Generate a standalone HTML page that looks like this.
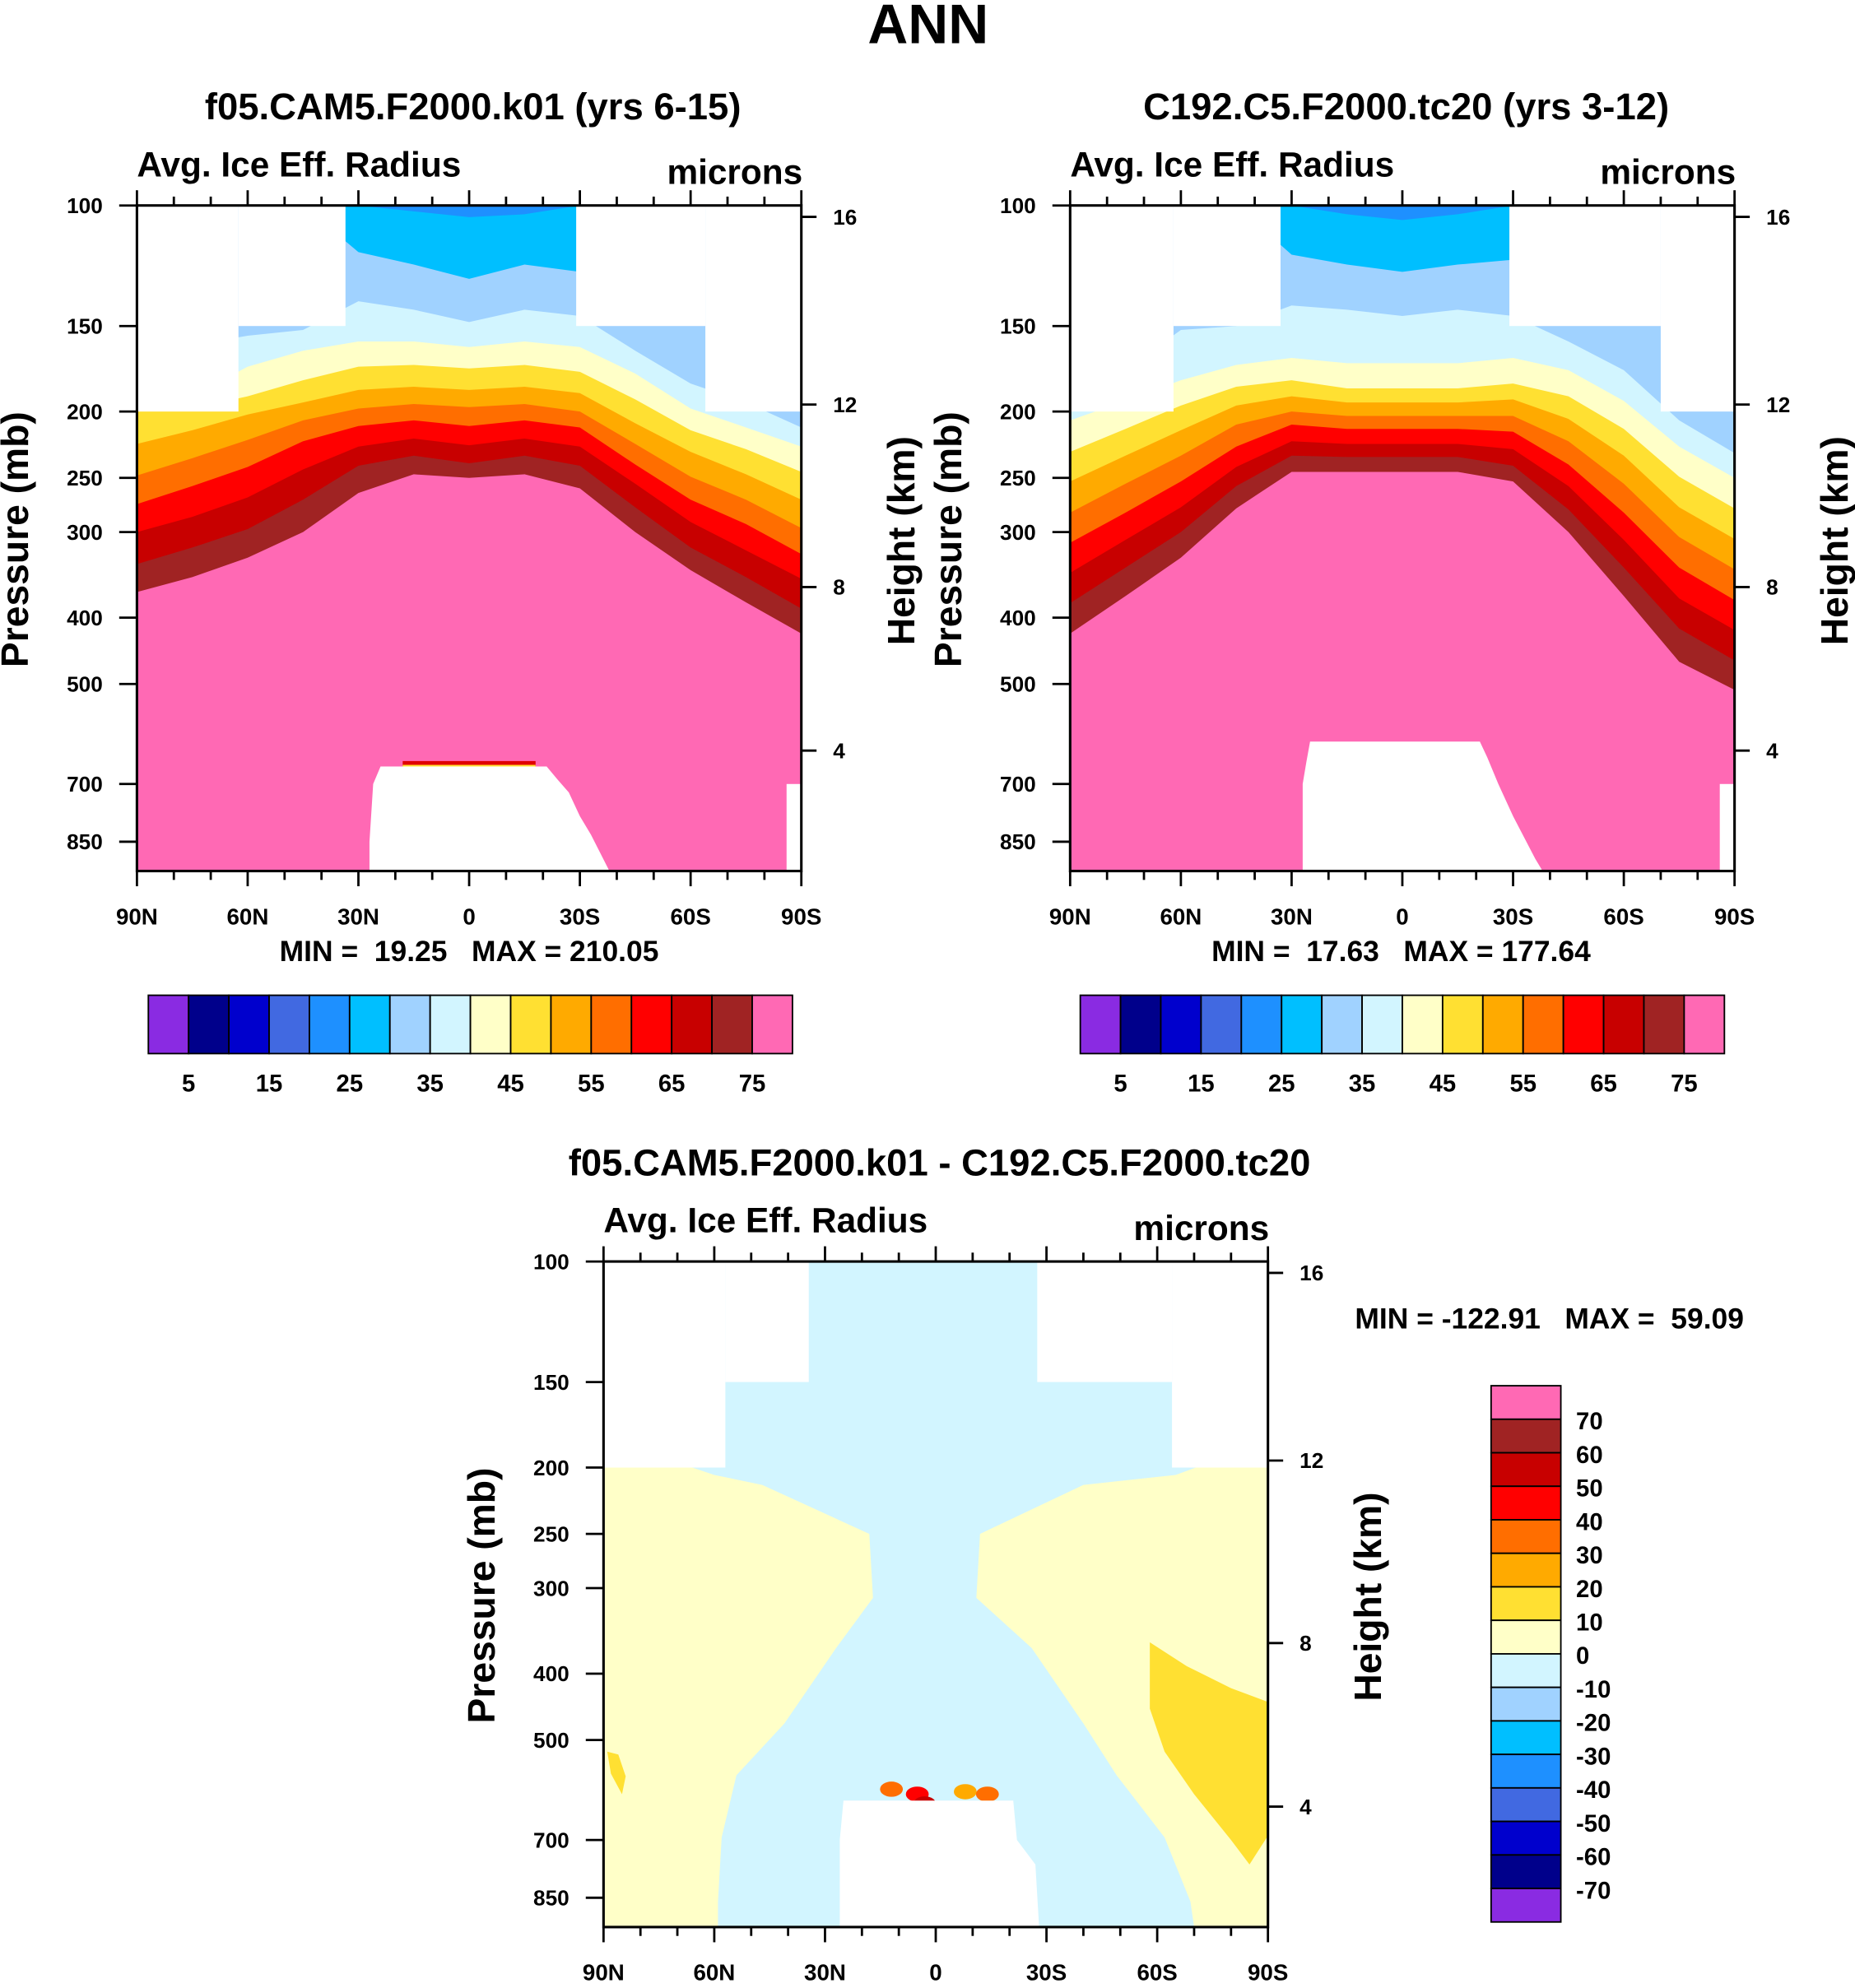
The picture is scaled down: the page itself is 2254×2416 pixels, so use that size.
<!DOCTYPE html>
<html><head><meta charset="utf-8"><style>
html,body{margin:0;padding:0;background:#fff}
svg{display:block;font-family:"Liberation Sans",sans-serif;font-weight:bold}
</style></head><body>
<svg id="fig" width="2254" height="2416" viewBox="0 0 1463 1568" xmlns="http://www.w3.org/2000/svg">
<text x="732" y="34" font-size="44" text-anchor="middle">ANN</text>
</svg>
<script>
const lats=[90,75,60,45,30,15,0,-15,-30,-45,-60,-75,-90];
const colors=["#8a2be2","#00008b","#0000cd","#4169e1","#1e90ff","#00bfff","#a0d2ff","#d2f5ff","#ffffc8","#ffe032","#ffaa00","#ff6e00","#ff0000","#c80000","#a02323","#ff69b4"];
const cbLabels1=["5","15","25","35","45","55","65","75"];
const cbLabels3=["70","60","50","40","30","20","10","0","-10","-20","-30","-40","-50","-60","-70"];
const pTicks=[100,150,200,250,300,400,500,700,850];
const hTicks=[16,12,8,4];
const latTicks=[90,60,30,0,-30,-60,-90];
const latTickLabels=["90N","60N","30N","0","30S","60S","90S"];
const p1b75=[367,349,327,300,263,247,250,247,259,300,341,380,422];
const p1b70=[334,316,297,269,240,232,238,232,240,276,316,349,388];
const p1b65=[300,285,267,243,225,219,224,219,225,255,290,319,351];
const p1b60=[273,257,241,221,210,206,210,206,211,239,269,292,323];
const p1b55=[248,234,220,206,198,195,197,195,200,223,249,269,296];
const p1b50=[223,213,202,194,186,184,186,184,188,208,229,247,269];
const p1b45=[200,198,190,180,172,171,173,171,175,192,213,227,245];
const p1b40=[200,190,172,163,158,158,161,158,161,176,198,211,225];
const p1b35=[167,160,155,152,138,142,148,142,145,163,182,194,211];
const p1b30=[100,100,100,100,117,122,128,122,125,100,100,100,100];
const p1b25=[100,100,100,100,100,102,104,103,100,100,100,100,100];
const p2b75=[422,372,327,277,245,245,245,245,253,300,372,464,510];
const p2b70=[381,338,300,257,232,233,233,233,240,278,338,415,462];
const p2b65=[344,308,276,241,221,223,223,223,227,257,308,375,417];
const p2b60=[311,281,253,225,209,212,212,212,214,239,281,338,377];
const p2b55=[281,255,232,209,200,203,203,203,203,221,255,305,340];
const p2b50=[253,232,213,196,190,194,194,194,192,205,232,276,307];
const p2b45=[229,212,196,184,180,185,185,185,182,190,212,249,277];
const p2b40=[206,193,180,171,167,170,170,170,167,174,193,225,250];
const p2b35=[190,174,152,150,140,142,145,142,145,158,174,206,230];
const p2b30=[100,100,100,100,118,122,125,122,120,100,100,100,100];
const p2b25=[100,100,100,100,100,103,105,103,100,100,100,100,100];
const m1Lat=[90,62.5,33.5,-29,-64,-90], m1P=[200,150,100,150,200];
const m2Lat=[90,62,33,-29,-70,-90], m2P=[200,150,100,150,200];
const m3Lat=[90,57,34.4,-27.5,-64,-90], m3P=[200,150,100,150,200];
const b1Lat=[27,27,26,24,-21,-24,-27,-30,-33,-38], b1P=[950,850,700,660,660,690,720,780,830,950];
const b2Lat=[27,27,26,25,-21,-23,-26,-30,-36,-38], b2P=[950,700,650,607,607,640,700,780,900,950];
const b3Lat=[26,26,25,-21,-22,-27,-28], b3P=[950,700,613,613,700,760,950];
const cyL_p=[195,205,212,250,310,367,473,563,694,861,950], cyL_lat=[72,60,47,18,17,27,41,54,58,59,59];
const cyR_p=[195,205,212,250,310,367,473,563,694,861,950], cyR_lat=[-76,-65,-40,-12,-11,-26,-40,-49,-62,-69,-70];
const ybR_lat=[-58,-68,-80,-90,-90,-85,-80,-70,-62,-58], ybR_p=[360,390,420,440,690,760,700,600,520,450];
const ybL_lat=[89,86,84,85,88], ybL_p=[520,525,565,600,560];
const blobLat=[12,5,-8,-14,3,-1,-11], blobP=[590,600,595,600,620,640,640], blobLevel=[11,12,10,11,13,0,2];

const svg=document.getElementById('fig');const NS="http://www.w3.org/2000/svg";
function el(t,a,parent){const e=document.createElementNS(NS,t);for(const k in a)e.setAttribute(k,a[k]);(parent||svg).appendChild(e);return e;}
function txt(s,a,parent){const e=el('text',a,parent);e.textContent=s;e.setAttribute('xml:space','preserve');e.style.whiteSpace='pre';return e;}

function panel(id,x0,y0){
  const W=524,H=525,K=540;
  const X=lat=>x0+(90-lat)/180*W;
  const Y=p=>Math.min(y0+H,y0+K*Math.log10(p/100));
  const g=el('g',{});
  
  
  el('clipPath',{id:'c'+id},g);
  el('rect',{x:x0,y:y0,width:W,height:H},g.lastChild);
  const d=el('g',{'clip-path':'url(#c'+id+')'},g);
  return {g,d,X,Y,x0,y0,W,H};
}
function axes(P,title,mmText,mmPos){
  const {g,X,Y,x0,y0,W,H}=P;
  el('rect',{x:x0,y:y0,width:W,height:H,fill:'none',stroke:'#000','stroke-width':2},g);
  for(let lat=90;lat>=-90;lat-=10){const major=lat%30===0;const l=major?12:7;
    el('line',{x1:X(lat),x2:X(lat),y1:y0,y2:y0-l,stroke:'#000','stroke-width':1.8},g);
    el('line',{x1:X(lat),x2:X(lat),y1:y0+H,y2:y0+H+l,stroke:'#000','stroke-width':1.8},g);}
  latTicks.forEach((lt,i)=>{const t=txt(latTickLabels[i],{x:X(lt),y:y0+H+42,'font-size':18,'text-anchor':'middle'},g);
    });
  pTicks.forEach(p=>{el('line',{x1:x0,x2:x0-14,y1:Y(p),y2:Y(p),stroke:'#000','stroke-width':1.8},g);
    const t=txt(String(p),{x:x0-27,y:Y(p)+6,'font-size':17,'text-anchor':'end'},g);
    });
  hTicks.forEach(h=>{const yy=y0+({16:9,12:157,8:301,4:430})[h];
    el('line',{x1:x0+W,x2:x0+W+12,y1:yy,y2:yy,stroke:'#000','stroke-width':1.8},g);
    const t=txt(String(h),{x:x0+W+25,y:yy+6,'font-size':17},g);
    });
  let t=txt(title,{x:x0+W/2+3,y:y0-68,'font-size':29.5,'text-anchor':'middle'},g);
  
  t=txt('Avg. Ice Eff. Radius',{x:x0,y:y0-23,'font-size':27.5},g);
  
  t=txt('microns',{x:x0+W+1,y:y0-17,'font-size':27.5,'text-anchor':'end'},g);
  
  t=txt('Pressure (mb)',{x:0,y:0,'font-size':30,'text-anchor':'middle',transform:`translate(${x0-86},${y0+H/2+1}) rotate(-90)`},g);
  
  t=txt('Height (km)',{x:0,y:0,'font-size':30,'text-anchor':'middle',transform:`translate(${x0+W+89},${y0+H/2+2}) rotate(-90)`},g);
  
  t=txt(mmText,{x:mmPos[0],y:mmPos[1],'font-size':23,'text-anchor':'middle'},g);
  
}
function bandsDraw(P,list){
  const {d,X,Y,x0,y0,W,H}=P;
  el('rect',{x:x0,y:y0,width:W,height:H,fill:colors[15]},d);
  list.forEach(([arr,ci])=>{
    let pts=`${X(90)},${y0} ${X(-90)},${y0} `;
    for(let i=lats.length-1;i>=0;i--)pts+=`${X(lats[i])},${Y(arr[i])} `;
    const p=el('polygon',{points:pts,fill:colors[ci]},d);
    
  });
}
function masks(P,mLat,mP,bLat,bP){
  const {d,X,Y,x0,y0,W,H}=P;
  for(let i=0;i<mP.length;i++){if(mP[i]<=100)continue;
    el('rect',{x:X(mLat[i]),y:y0-1,width:X(mLat[i+1])-X(mLat[i]),height:Y(mP[i])-y0+1,fill:'#fff'},d);}
  let pts='';bLat.forEach((l,i)=>{pts+=`${X(l)},${Y(bP[i])} `;});
  pts+=`${X(bLat[bLat.length-1])},${y0+H+2} ${X(bLat[0])},${y0+H+2}`;
  const m=el('polygon',{points:pts,fill:'#fff'},d);
  
}
function hbar(x0,y0,id){
  const g=el('g',{});
  const w=508/16;
  colors.forEach((c,i)=>el('rect',{x:x0+i*w,y:y0,width:w,height:46,fill:c,stroke:'#000','stroke-width':1.2},g));
  cbLabels1.forEach((s,i)=>txt(s,{x:x0+(2*i+1)*w,y:y0+76,'font-size':19,'text-anchor':'middle'},g));
}
const P1=panel('panel-model-1',108,162);
bandsDraw(P1,[[p1b75,14],[p1b70,13],[p1b65,12],[p1b60,11],[p1b55,10],[p1b50,9],[p1b45,8],[p1b40,7],[p1b35,6],[p1b30,5],[p1b25,4]]);
el('rect',{x:P1.X(18),y:P1.Y(648),width:P1.X(-18)-P1.X(18),height:5,fill:'#e00000'},P1.d);
el('rect',{x:P1.X(18),y:P1.Y(648)+3,width:P1.X(-18)-P1.X(18),height:3,fill:'#ffe032'},P1.d);
masks(P1,m1Lat,m1P,b1Lat,b1P);
el('rect',{x:P1.X(-86),y:P1.Y(700),width:P1.X(-90)-P1.X(-86),height:100,fill:'#fff'},P1.d);
axes(P1,'f05.CAM5.F2000.k01 (yrs 6-15)','MIN =  19.25   MAX = 210.05',[370,758]);
hbar(117,785,'colorbar-1');
const P2=panel('panel-model-2',844,162);
bandsDraw(P2,[[p2b75,14],[p2b70,13],[p2b65,12],[p2b60,11],[p2b55,10],[p2b50,9],[p2b45,8],[p2b40,7],[p2b35,6],[p2b30,5],[p2b25,4]]);
masks(P2,m2Lat,m2P,b2Lat,b2P);
el('rect',{x:P2.X(-86),y:P2.Y(700),width:P2.X(-90)-P2.X(-86),height:100,fill:'#fff'},P2.d);
axes(P2,'C192.C5.F2000.tc20 (yrs 3-12)','MIN =  17.63   MAX = 177.64',[1105,758]);
hbar(852,785,'colorbar-2');
const P3=panel('panel-difference',476,995);
el('rect',{x:476,y:995,width:524,height:525,fill:colors[8]},P3.d);
let pts=`${P3.X(90)},${P3.y0} ${P3.X(-90)},${P3.y0} `;
cyR_p.forEach((p,i)=>pts+=`${P3.X(cyR_lat[i])},${P3.Y(p)} `);
for(let i=cyL_p.length-1;i>=0;i--)pts+=`${P3.X(cyL_lat[i])},${P3.Y(cyL_p[i])} `;
const cy=el('polygon',{points:pts,fill:colors[7]},P3.d);

[[ybR_lat,ybR_p],[ybL_lat,ybL_p]].forEach(([la,pp])=>{let s='';la.forEach((l,i)=>s+=`${P3.X(l)},${P3.Y(pp[i])} `);
  const y=el('polygon',{points:s,fill:colors[9]},P3.d);});
blobLat.forEach((l,i)=>{const b=el('ellipse',{cx:P3.X(l),cy:P3.Y(blobP[i]),rx:9,ry:6,fill:colors[blobLevel[i]]},P3.d);
  });
masks(P3,m3Lat,m3P,b3Lat,b3P);
axes(P3,'f05.CAM5.F2000.k01 - C192.C5.F2000.tc20','MIN = -122.91   MAX =  59.09',[1222,1048]);
const g3=el('g',{});
const h3=423/16;
for(let i=0;i<16;i++)el('rect',{x:1176,y:1093+i*h3,width:55,height:h3,fill:colors[15-i],stroke:'#000','stroke-width':1.2},g3);
cbLabels3.forEach((s,i)=>txt(s,{x:1243,y:1093+(i+1)*h3+8,'font-size':19},g3));
</script>
</body></html>
